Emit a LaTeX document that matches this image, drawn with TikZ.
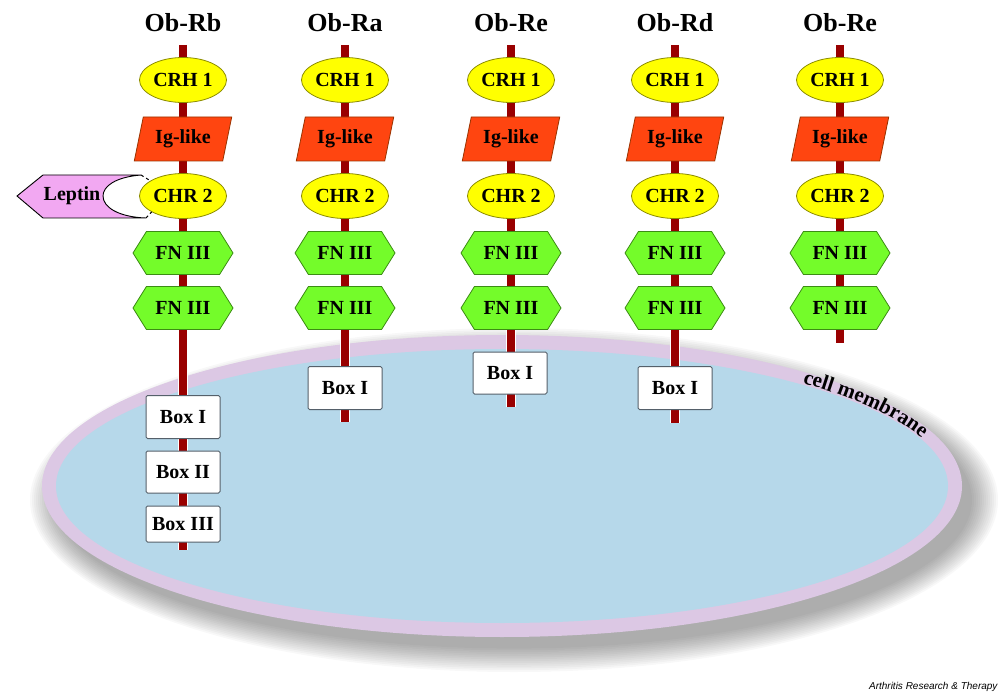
\documentclass[tikz,border=0pt]{standalone}
\usepackage{fontspec}
\setmainfont{Liberation Serif}
\newfontfamily\creditfont{Liberation Sans}
\usetikzlibrary{shapes.geometric,shapes.symbols,decorations.text}

\definecolor{stemred}{HTML}{990000}
\definecolor{crhyellow}{HTML}{FFFF00}
\definecolor{crhborder}{HTML}{8C8C00}
\definecolor{igred}{HTML}{FF4510}
\definecolor{igborder}{HTML}{993300}
\definecolor{fngreen}{HTML}{74FC2A}
\definecolor{fnborder}{HTML}{3C8C14}
\definecolor{leptinpink}{HTML}{F2A8F2}
\definecolor{ringlilac}{HTML}{DCC8E4}
\definecolor{cellblue}{HTML}{B6D8EA}
\definecolor{boxgray}{HTML}{55606A}

\tikzset{
  domfont/.style={font=\fontsize{20}{22}\selectfont\bfseries},
  titlelbl/.style={font=\fontsize{26}{28}\selectfont\bfseries, anchor=base},
  crhdom/.style={ellipse, draw=crhborder, fill=crhyellow, line width=0.8pt,
    minimum width=87pt, minimum height=45pt, inner sep=0pt, domfont},
  igdom/.style={trapezium, trapezium left angle=71, trapezium right angle=109,
    trapezium stretches=true, draw=igborder, fill=igred, line width=0.8pt,
    minimum width=98pt, minimum height=44pt, inner sep=0pt, domfont},
  fndom/.style={signal, signal to=west and east, signal pointer angle=116,
    draw=fnborder, fill=fngreen, line width=0.8pt,
    minimum width=100pt, minimum height=43pt, inner sep=0pt, domfont},
  boxdom/.style={rectangle, rounded corners=1.5pt, draw=boxgray, fill=white,
    line width=1pt, minimum width=74pt, minimum height=43pt, inner sep=0pt, domfont},
  stem/.style={line width=7.5pt, stemred},
  stemhalo/.style={line width=10pt, white}
}

\begin{document}
\begin{tikzpicture}[x=1pt, y=-1pt]
  \useasboundingbox (0,0) rectangle (1004,695);

  % Cell membrane with its shadow
  \foreach \s in {0,...,13}
    \fill[black, opacity=0.026] (514,500) ellipse [x radius={484-2*\s}, y radius={172-1.8*\s}];
  \fill[ringlilac] (502,486) ellipse [x radius=460, y radius=151];
  \fill[cellblue] (502,486) ellipse [x radius=446, y radius=137];
  \path[decorate, decoration={text along path, text align=center,
      text={|\fontsize{21}{22}\selectfont\bfseries|cell membrane}}]
    (502,486) ++(-50:447 and 139) arc [start angle=-50, end angle=-16, x radius=447, y radius=139];

  % Stems
  \foreach \cx/\ybot [count=\i] in {183/550, 345/422, 511/407, 675/423, 840/343} {
    \coordinate (stemtop-\i) at (\cx,45);
    \coordinate (stembot-\i) at (\cx,\ybot);
    \draw[stemhalo] (stemtop-\i) -- (stembot-\i);
    \draw[stem] (stemtop-\i) -- (stembot-\i);
  }

  % Extracellular domains of the receptor isoforms
  \foreach \cx/\lbl [count=\i] in {183/Ob-Rb, 345/Ob-Ra, 511/Ob-Re, 675/Ob-Rd, 840/Ob-Re} {
    \node[titlelbl] (title-\i) at (\cx,32) {\lbl};
    \node[crhdom] (crh1-\i) at (\cx,80) {CRH 1};
    \node[igdom] (ig-\i) at (\cx,139) {Ig-like};
    \node[crhdom] (chr2-\i) at (\cx,196) {CHR 2};
    \node[fndom] (fna-\i) at (\cx,253) {FN III};
    \node[fndom] (fnb-\i) at (\cx,308) {FN III};
  }

  % Intracellular boxes
  \node[boxdom] (boxa-1) at (183,417) {Box I};
  \node[boxdom, minimum height=42pt] (boxb-1) at (183,472) {Box II};
  \node[boxdom, minimum height=36pt] (boxc-1) at (183,524) {Box III};
  \node[boxdom] (boxa-2) at (345,388) {Box I};
  \node[boxdom, minimum height=42pt] (boxa-3) at (510,373) {Box I};
  \node[boxdom] (boxa-4) at (675,388) {Box I};

  % Leptin bound to CHR 2
  \draw[fill=leptinpink, line width=0.9pt] (17,196) -- (43,175) -- (141,175)
    .. controls (116,177) and (103,186) .. (103,196)
    .. controls (103,207) and (118,217) .. (146,218) -- (43,218) -- cycle;
  \coordinate (leptin-top) at (141,175);
  \coordinate (leptin-bot) at (146,218);
  \draw[dashed, line width=1pt] (leptin-top) -- (chr2-1.155);
  \draw[dashed, line width=1pt] (leptin-bot) -- (chr2-1.-153);
  \node[domfont] (leptin) at (72,196) {Leptin};

  \node[anchor=base east, font=\creditfont\fontsize{10}{11}\selectfont\itshape] (credit) at (1001,689) {Arthritis Research \& Therapy};
\end{tikzpicture}
\end{document}
